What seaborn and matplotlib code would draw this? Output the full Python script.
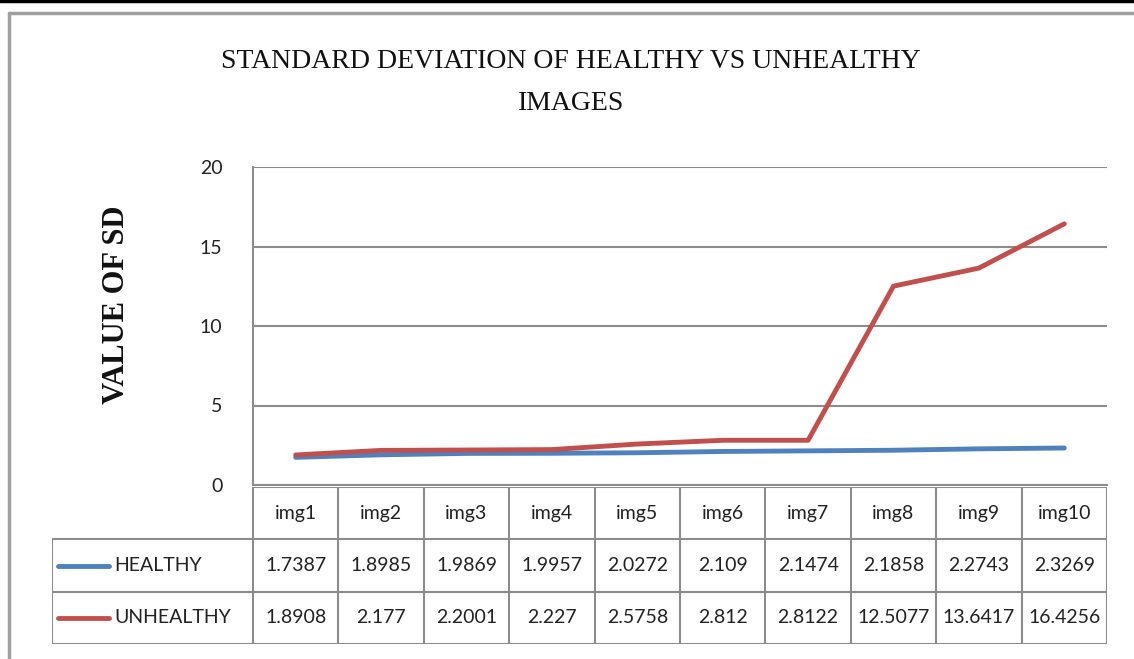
import numpy as np
import pandas as pd
import matplotlib
matplotlib.use("Agg")
import matplotlib.pyplot as plt
import seaborn as sns

# Data
images = ["img1", "img2", "img3", "img4", "img5", "img6", "img7", "img8", "img9", "img10"]
healthy = [1.7387, 1.8985, 1.9869, 1.9957, 2.0272, 2.109, 2.1474, 2.1858, 2.2743, 2.3269]
unhealthy = [1.8908, 2.177, 2.2001, 2.227, 2.5758, 2.812, 2.8122, 12.5077, 13.6417, 16.4256]
series_names = ["HEALTHY", "UNHEALTHY"]
yticks = [0, 5, 10, 15, 20]

colors = {"HEALTHY": "#4F81BD", "UNHEALTHY": "#C0504D"}
grid_col = "#8C8C8C"

sns.set_style("white")
plt.rcParams["font.family"] = ["Lato", "DejaVu Sans"]

W, H = 1134, 659
fig = plt.figure(figsize=(W / 100, H / 100), dpi=100)

def fx(px):
    return px / W

def fy(px):
    return 1 - px / H

# Outer frame lines
fig.add_artist(plt.Line2D([0, 1], [fy(1), fy(1)], color="black", lw=2.5))
fig.add_artist(plt.Line2D([fx(9), 1], [fy(13), fy(13)], color="#A0A0A0", lw=2.5))
fig.add_artist(plt.Line2D([fx(9), fx(9)], [fy(13), 0], color="#A0A0A0", lw=2.5))

# Main plot area
left, right, top, bottom = 253, 1107, 167, 485
ax = fig.add_axes([fx(left), fy(bottom), fx(right - left), (bottom - top) / H])

df = pd.DataFrame({"image": images * 2,
                   "sd": healthy + unhealthy,
                   "series": [series_names[0]] * len(images) + [series_names[1]] * len(images)})
df["pos"] = list(range(len(images))) * 2

sns.lineplot(data=df, x="pos", y="sd", hue="series", palette=colors, linewidth=3.5,
             legend=False, ax=ax, sort=False)

ax.set_xlim(-0.5, len(images) - 0.5)
ax.set_ylim(0, 20)
ax.set_yticks(yticks)
ax.set_xticks([])
ax.set_xlabel("")
ax.set_ylabel("")
ax.yaxis.grid(True, color=grid_col, lw=1.5)
ax.set_axisbelow(True)
for s in ["top", "right"]:
    ax.spines[s].set_visible(False)
ax.spines["left"].set_color(grid_col)
ax.spines["left"].set_linewidth(1.5)
ax.spines["bottom"].set_color(grid_col)
ax.spines["bottom"].set_linewidth(1.5)
ax.tick_params(axis="y", length=0, pad=22, labelsize=14, labelcolor="#222222")

# Title and y label
fig.text(fx(571), fy(61), "STANDARD DEVIATION OF HEALTHY VS UNHEALTHY",
         ha="center", va="center", fontsize=20, family="Liberation Serif", color="#111111")
fig.text(fx(571), fy(103), "IMAGES",
         ha="center", va="center", fontsize=20, family="Liberation Serif", color="#111111")
fig.text(fx(116), fy(305), "VALUE OF SD", rotation=90, ha="center", va="center",
         fontsize=22, fontweight="bold", family="Liberation Serif", color="#111111")

# Data table below the plot
unit = (right - left) / len(images)
lab_w = (253 - 52) / unit
tax = fig.add_axes([fx(52), fy(644), fx(right - 52), (644 - 487) / H])
tax.set_xlim(-0.5 - lab_w, len(images) - 0.5)
tax.set_ylim(3, 0)
tax.axis("off")

n = len(images)
xs = np.arange(n + 1) - 0.5
tax.vlines(xs, 0, 3, color=grid_col, lw=1.5)
tax.vlines(-0.5 - lab_w, 1, 3, color=grid_col, lw=1.5)
tax.hlines(0, -0.5, n - 0.5, color=grid_col, lw=1.5)
tax.hlines([1, 2, 3], -0.5 - lab_w, n - 0.5, color=grid_col, lw=1.5)

fs = 14
for i, name in enumerate(images):
    tax.text(i, 0.5, name, ha="center", va="center", fontsize=fs, color="#222222")
for r, (name, vals) in enumerate(zip(series_names, [healthy, unhealthy])):
    y = 1.5 + r
    for i, v in enumerate(vals):
        tax.text(i, y, f"{v:g}", ha="center", va="center", fontsize=fs, color="#222222")
    x0 = -0.5 - lab_w + 0.07
    tax.plot([x0, x0 + 0.6], [y, y], color=colors[name], lw=3.5, solid_capstyle="round")
    tax.text(x0 + 0.66, y, name, ha="left", va="center", fontsize=fs, color="#222222")

fig.savefig("out.png", dpi=100)
